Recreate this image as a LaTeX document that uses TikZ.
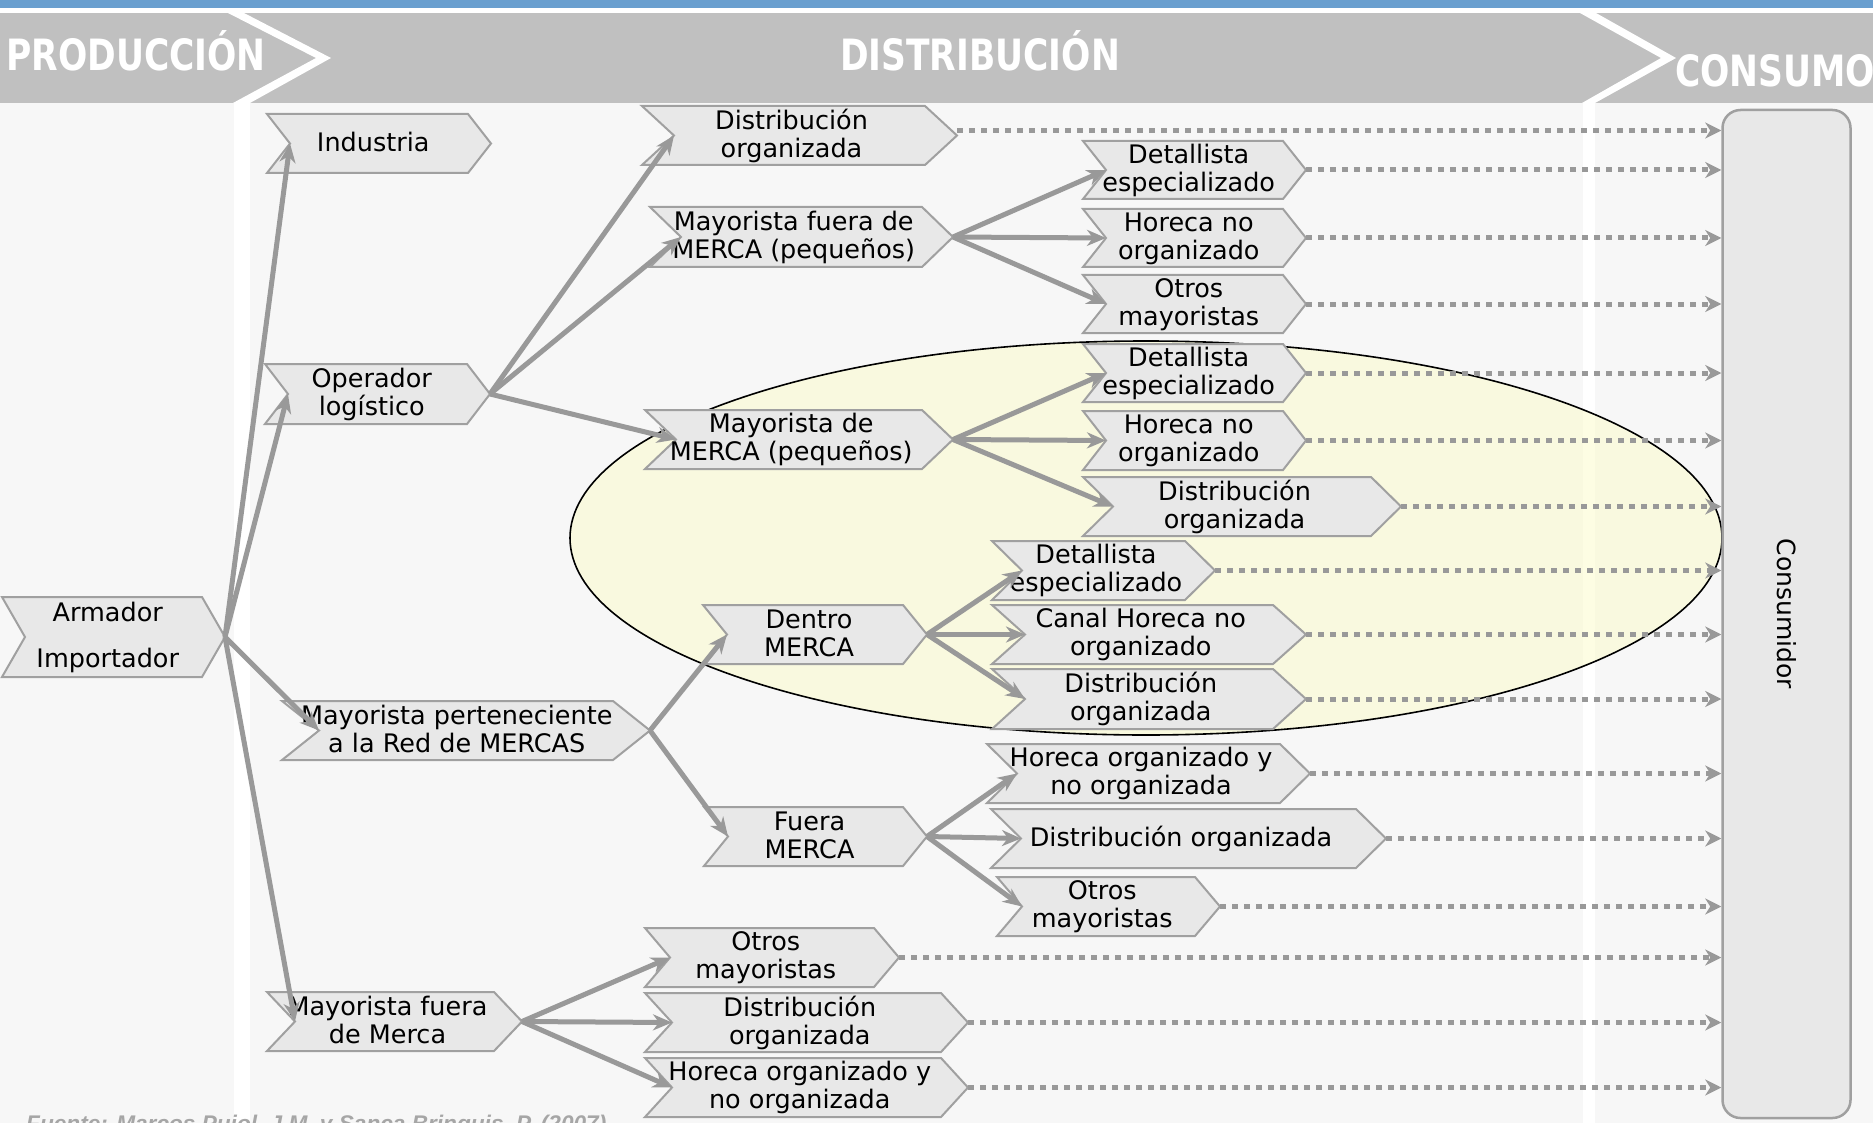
\documentclass[tikz,border=0pt]{standalone}
\usepackage{fontspec}
\setmainfont{DejaVu Sans}
\newfontfamily\footfont{Liberation Sans}
\usepackage{graphicx}
\usetikzlibrary{arrows.meta,calc}

\definecolor{bluebar}{RGB}{106,159,207}
\definecolor{hdrgray}{RGB}{192,192,192}
\definecolor{bodygray}{RGB}{247,247,247}
\definecolor{boxfill}{RGB}{232,232,232}
\definecolor{boxline}{RGB}{160,160,160}
\definecolor{arrowgray}{RGB}{153,153,153}
\definecolor{ellfill}{RGB}{252,252,205}
\definecolor{footgray}{RGB}{166,166,166}

\newcommand\lst{\vrule height 20pt depth 4pt width 0pt}
% name, left, top, tip x, bottom, depth, text
\newcommand\chevnode[7]{%
  \path[chevbox] (#2,#3) -- ({#4-#6},#3) -- (#4,{(#3+#5)/2}) -- ({#4-#6},#5) -- (#2,#5) -- ({#2+#6},{(#3+#5)/2}) -- cycle;
  \node[chevtext] (#1) at ({(#2+#4)/2-#6/4},{(#3+#5)/2}) {#7};
  \coordinate (#1-in) at ({#2+#6},{(#3+#5)/2});
  \coordinate (#1-out) at (#4,{(#3+#5)/2});
}

\tikzset{
  chevbox/.style={fill=boxfill, draw=boxline, line width=2pt, line join=miter},
  chevtext/.style={font=\fontsize{25.5}{28}\selectfont, align=center, inner sep=0pt, text=black},
  hdrtext/.style={font=\fontsize{34.5}{40}\selectfont\bfseries, text=white, inner sep=0pt},
  flow/.style={draw=arrowgray, line width=5pt, -{Stealth[length=19pt,width=16pt,inset=6pt]}},
  tocons/.style={draw=arrowgray, line width=5pt, dash pattern=on 6pt off 6pt, -{Stealth[length=16pt,width=16pt,inset=5pt]}},
}

\begin{document}
\begin{tikzpicture}[x=1pt,y=-1pt]
\useasboundingbox (0,0) rectangle (1873,1123);
\clip (0,0) rectangle (1873,1123);
% background
\fill[white] (0,0) rectangle (1873,1123);
\fill[bluebar] (0,0) rectangle (1873,8);
\fill[hdrgray] (0,13) rectangle (1873,103);
\fill[bodygray] (0,103) rectangle (1873,1123);
\fill[white] (234,103) rectangle (250,1123);
\fill[white] (1583,103) rectangle (1595,1123);
\fill[white] (228,13) -- (244,13) -- (331,58) -- (250,103) -- (233,103) -- (316,58) -- cycle;
\fill[white] (1580,13) -- (1596,13) -- (1676,58) -- (1595,103) -- (1582,103) -- (1661,58) -- cycle;
% header texts
\node[hdrtext, anchor=base west] (hprod) at (6,71) {\scalebox{1}[1.25]{PRODUCCIÓN}};
\node[hdrtext, anchor=base] (hdist) at (980,71) {\scalebox{1}[1.25]{DISTRIBUCIÓN}};
\node[hdrtext, anchor=base west] (hcons) at (1675,87) {\scalebox{1}[1.25]{CONSUMO}};

% highlighted ellipse
\path[fill=ellfill, fill opacity=0.55] (1146,538) ellipse [x radius=576pt, y radius=197pt];
\draw[black, line width=1.6pt] (1146,538) ellipse [x radius=576pt, y radius=197pt];

% nodes
\chevnode{arm}{2}{597}{225}{677}{23}{\lst Armador\\[18pt]\lst Importador}
\chevnode{ind}{267}{114}{491}{173}{23}{\lst Industria}
\chevnode{ope}{265}{364}{490}{424}{23}{\lst Operador\\\lst logístico}
\chevnode{mpr}{282}{701}{650}{760}{37}{\lst Mayorista perteneciente\\\lst a la Red de MERCAS}
\chevnode{mfm}{267}{992}{522}{1051}{28}{\lst Mayorista fuera\\\lst de Merca}

\chevnode{do1}{642}{106}{957}{165}{32}{\lst Distribución\\\lst organizada}
\chevnode{mfp}{650}{207}{953}{267}{31}{\lst Mayorista fuera de\\\lst MERCA (pequeños)}
\chevnode{mdp}{645}{410}{953}{469}{31}{\lst Mayorista de\\\lst MERCA (pequeños)}
\chevnode{den}{703}{605}{927}{664}{24}{\lst Dentro\\\lst MERCA}
\chevnode{fue}{704}{807}{927}{866}{24}{\lst Fuera\\\lst MERCA}
\chevnode{om3}{645}{928}{899}{987}{25}{\lst Otros\\\lst mayoristas}
\chevnode{dd3}{645}{993}{968}{1052}{27}{\lst Distribución\\\lst organizada}
\chevnode{ho3}{645}{1058}{968}{1117}{27}{\lst Horeca organizado y\\\lst no organizada}

\chevnode{de1}{1083}{141}{1306}{199}{23}{\lst Detallista\\\lst especializado}
\chevnode{hn1}{1083}{209}{1306}{267}{23}{\lst Horeca no\\\lst organizado}
\chevnode{ot1}{1083}{275}{1306}{333}{23}{\lst Otros\\\lst mayoristas}
\chevnode{de2}{1083}{344}{1306}{402}{23}{\lst Detallista\\\lst especializado}
\chevnode{hn2}{1083}{411}{1306}{470}{23}{\lst Horeca no\\\lst organizado}
\chevnode{do2}{1083}{477}{1401}{536}{30}{\lst Distribución\\\lst organizada}
\chevnode{de3}{992}{541}{1215}{600}{30}{\lst Detallista\\\lst especializado}
\chevnode{ca3}{992}{605}{1306}{664}{33}{\lst Canal Horeca no\\\lst organizado}
\chevnode{dd4}{992}{669}{1306}{729}{33}{\lst Distribución\\\lst organizada}
\chevnode{ho4}{987}{744}{1310}{803}{30}{\lst Horeca organizado y\\\lst no organizada}
\chevnode{dd5}{991}{809}{1386}{868}{30}{\lst Distribución organizada}
\chevnode{ot4}{997}{877}{1220}{936}{25}{\lst Otros\\\lst mayoristas}

% consumer
\node[draw=boxline, fill=boxfill, line width=2.5pt, rounded corners=18pt,
      minimum width=128pt, minimum height=1008pt, inner sep=0pt] (cons) at (1786.5,614) {};
\node[rotate=-90, font=\fontsize{25}{30}\selectfont, inner sep=0pt] (constext) at (cons.center) {Consumidor};

% dotted connectors to the consumer
\coordinate (do1-dot) at ([yshift=5pt]do1-out);
\draw[tocons] (do1-dot) -- (do1-dot -| cons.west);
\foreach \n in {de1,hn1,ot1,de2,hn2,do2,de3,ca3,dd4,ho4,dd5,ot4,om3,dd3,ho3}
  \draw[tocons] (\n-out) -- (\n-out -| cons.west);

% solid flows
\foreach \t in {ind,ope,mpr,mfm} \draw[flow] (arm-out) -- (\t-in);
\foreach \t in {do1,mfp,mdp} \draw[flow] (ope-out) -- (\t-in);
\foreach \t in {de1,hn1,ot1} \draw[flow] (mfp-out) -- (\t-in);
\foreach \t in {de2,hn2,do2} \draw[flow] (mdp-out) -- (\t-in);
\foreach \t in {den,fue} \draw[flow] (mpr-out) -- (\t-in);
\foreach \t in {de3,ca3,dd4} \draw[flow] (den-out) -- (\t-in);
\foreach \t in {ho4,dd5,ot4} \draw[flow] (fue-out) -- (\t-in);
\foreach \t in {om3,dd3,ho3} \draw[flow] (mfm-out) -- (\t-in);

% source
\node[anchor=base west, inner sep=0pt, text=footgray] (src) at (26,1131)
  {\resizebox{580pt}{!}{\footfont\bfseries\itshape Fuente: Marcos Pujol, J.M. y Sanca Brinquis, P. (2007)}};
\end{tikzpicture}
\end{document}
